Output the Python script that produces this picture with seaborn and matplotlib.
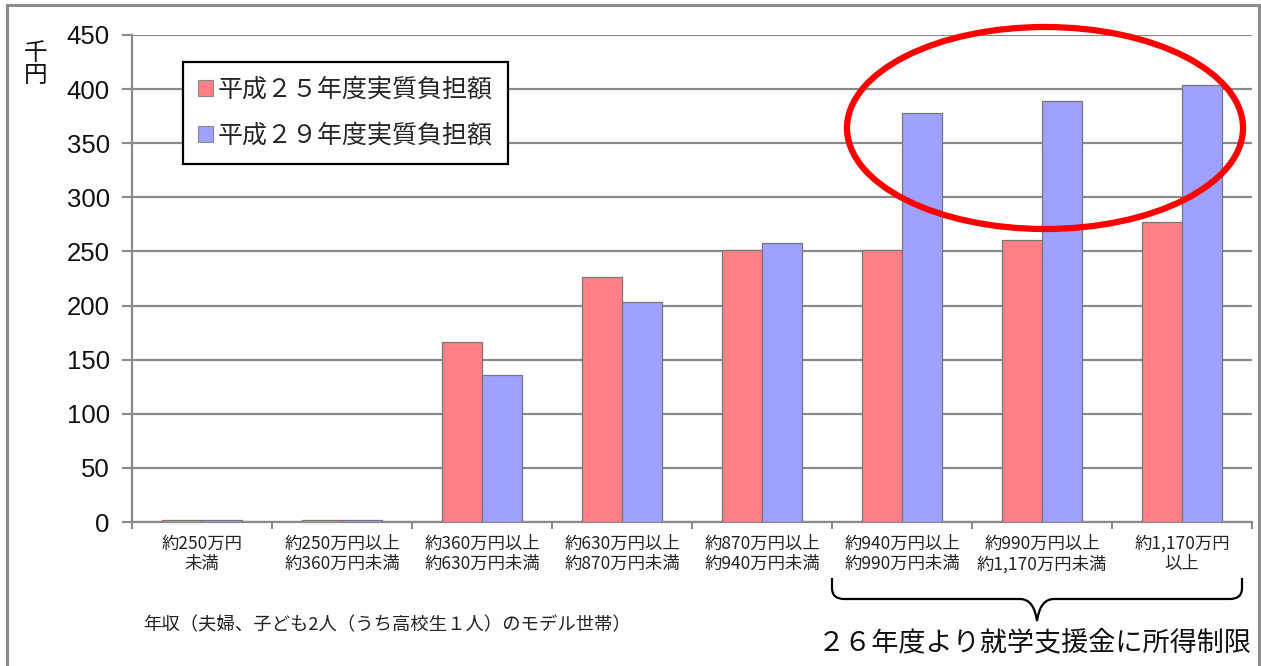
import matplotlib
matplotlib.use('Agg')
import matplotlib.pyplot as plt
import seaborn as sns
import pandas as pd
import numpy as np
from matplotlib.patches import Ellipse, Rectangle, Patch, PathPatch
from matplotlib.path import Path

# ---------------- data ----------------
categories = ['約250万円\n未満', '約250万円以上\n約360万円未満', '約360万円以上\n約630万円未満',
              '約630万円以上\n約870万円未満', '約870万円以上\n約940万円未満', '約940万円以上\n約990万円未満',
              '約990万円以上\n約1,170万円未満', '約1,170万円\n以上']
series_names = ['平成２５年度実質負担額', '平成２９年度実質負担額']
h25_values = [1.5, 1.5, 166, 226, 251, 251, 261, 277]
h29_values = [1.5, 1.5, 136, 203, 258, 378, 389, 404]
y_ticks = [0, 50, 100, 150, 200, 250, 300, 350, 400, 450]
y_unit = '千\n円'
note_text = '年収（夫婦、子ども2人（うち高校生１人）のモデル世帯）'
brace_text = '２６年度より就学支援金に所得制限'

RED = '#FF8088'
BLUE = '#A0A0FF'
GRID = '#8a8a8a'

df = pd.DataFrame({
    'cat': categories * 2,
    'series': [series_names[0]] * len(categories) + [series_names[1]] * len(categories),
    'value': h25_values + h29_values,
})

sns.set_theme(style='white')
plt.rcParams['font.family'] = ['Noto Sans CJK JP', 'DejaVu Sans']

W, H = 1261, 666
fig = plt.figure(figsize=(W / 100, H / 100), dpi=100)
fig.patch.set_facecolor('white')

def px(x, y):
    return (x / W, 1 - y / H)

ax = fig.add_axes([132 / W, 1 - 522 / H, 1120 / W, 487 / H])
sns.barplot(data=df, x='cat', y='value', hue='series', palette=[RED, BLUE],
            width=0.57, gap=0, saturation=1, ax=ax, legend=False,
            edgecolor='#767676', linewidth=0.9, zorder=3)

ax.set_xlim(-0.5, len(categories) - 0.5)
ax.set_ylim(0, 450)
ax.set_yticks(y_ticks)
ax.set_yticklabels([str(v) for v in y_ticks])
for t in ax.get_yticklabels():
    t.set_fontfamily('Liberation Sans')
    t.set_fontsize(18.5)
    t.set_color('#111111')
ax.tick_params(axis='y', which='major', length=7, width=1.5, color=GRID, direction='out', pad=9, left=True)
ax.tick_params(axis='x', which='major', length=0, pad=9, labelsize=12.5, labelcolor='#222222')
ax.set_xticks(np.arange(-0.5, len(categories), 1), minor=True)
ax.tick_params(axis='x', which='minor', length=5, width=1.5, color=GRID, direction='out', bottom=True)
ax.set_xlabel('')
ax.set_ylabel('')
ax.yaxis.grid(True, color=GRID, lw=1.6)
ax.set_axisbelow(True)
for s in ['top', 'right']:
    ax.spines[s].set_visible(False)
for s in ['left', 'bottom']:
    ax.spines[s].set_color(GRID)
    ax.spines[s].set_linewidth(1.6)

# legend
handles = [Patch(facecolor=RED, edgecolor='#888888', lw=0.8), Patch(facecolor=BLUE, edgecolor='#888888', lw=0.8)]
leg = ax.legend(handles, series_names, loc='upper left', bbox_to_anchor=((183 - 132) / 1120, (522 - 62) / 487),
                frameon=True, fancybox=False, edgecolor='black', fontsize=18, handlelength=0.6,
                handleheight=0.6, handletextpad=0.2, labelspacing=0.8, borderpad=0.6, borderaxespad=0)
leg.get_frame().set_linewidth(1.6)
leg.get_frame().set_facecolor('white')
leg.get_frame().set_alpha(1)
leg.set_zorder(5)

# unit label
fig.text(36 / W, 1 - 42 / H, y_unit, ha='center', va='top', fontsize=17, linespacing=0.95, color='#111111')

# note
fig.text(143 / W, 1 - 625 / H, note_text, ha='left', va='center', fontsize=13.2, color='#222222')

# red ellipse
fig.add_artist(Ellipse(px(1045, 128), 396 / W, 202 / H, transform=fig.transFigure,
                       fill=False, ec='#FF0000', lw=4.5, zorder=10))

# brace
verts = [px(832, 578), px(832, 588), px(832, 599), px(844, 599), px(1020, 599),
         px(1034, 599), px(1037, 621), px(1040, 599), px(1054, 599), px(1230, 599),
         px(1242, 599), px(1242, 588), px(1242, 578)]
codes = [Path.MOVETO, Path.LINETO, Path.CURVE3, Path.CURVE3, Path.LINETO,
         Path.CURVE3, Path.CURVE3, Path.CURVE3, Path.CURVE3, Path.LINETO,
         Path.CURVE3, Path.CURVE3, Path.LINETO]
fig.add_artist(PathPatch(Path(verts, codes), transform=fig.transFigure, fill=False, ec='black', lw=1.6))
fig.text(1035 / W, 1 - 643 / H, brace_text, ha='center', va='center', fontsize=19.5, color='#111111')

# outer frame
fig.add_artist(Rectangle(px(7, 700), (1259 - 7) / W, (700 - 5) / H, transform=fig.transFigure,
                         fill=False, ec='#8c8c8c', lw=2.2, clip_on=False))

fig.savefig('out.png', dpi=100)
